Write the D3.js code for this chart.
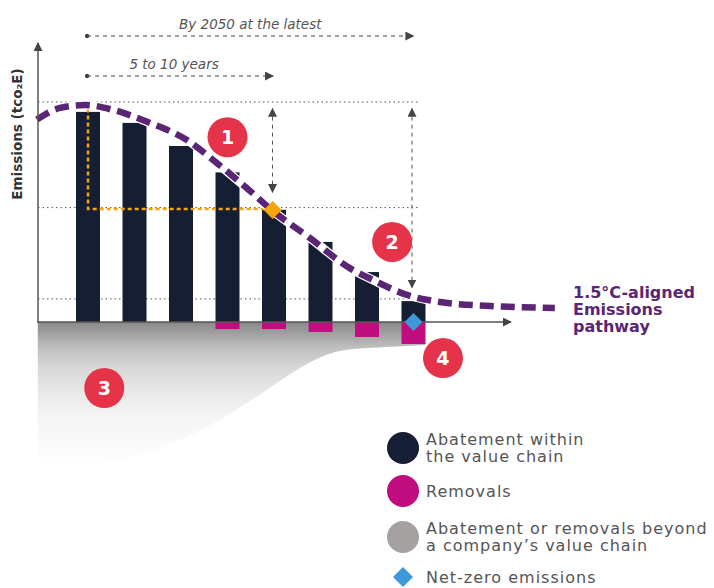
<!DOCTYPE html>
<html>
<head>
<meta charset="utf-8">
<script src="https://cdn.jsdelivr.net/npm/d3@7"></script>
<style>
  body { margin: 0; background: #fff; }
  svg { display: block; font-family: "DejaVu Sans", sans-serif; }
</style>
</head>
<body>
<svg width="714" height="588"></svg>
<script>
// periods (bars) and values, emissions in % of base year
const periods = [0, 1, 2, 3, 4, 5, 6, 7]
const abatement = [95.5, 90.5, 80, 68, 51, 36.4, 22.7, 9.5]
const removals = [0, 0, 0, -3.2, -3.2, -4.5, -6.8, -10]
const gridValues = [100, 52, 10.5]
// 1.5C pathway [period, value]
const pathway = [[-1.1, 92], [-0.6, 97.3], [-0.06, 98.6], [0.54, 96.4], [1.33, 90.5], [2.13, 82.7],
  [2.77, 72.3], [3.38, 61.5], [3.98, 50.4], [4.77, 38.2], [5.63, 24.5], [6.13, 19.1],
  [6.86, 12.3], [7.57, 9.1], [8.65, 7.3], [10.04, 6.4]]
// lower edge of the "beyond value chain" area [period, value]
const beyond = [[-1.08, -66], [-0.45, -66.4], [0.62, -64], [1.7, -56.8], [2.77, -45.9], [3.85, -30.9],
  [4.56, -20.5], [5.27, -12.7], [6.06, -11.8], [7.25, -10.5]]
const legendItems = [
  {lines: ["Abatement within", "the value chain"], color: "#161e35", shape: "circle"},
  {lines: ["Removals"], color: "#c00d80", shape: "circle"},
  {lines: ["Abatement or removals beyond", "a company’s value chain"], color: "#a5a1a1", shape: "circle"},
  {lines: ["Net-zero emissions"], color: "#3d9ad6", shape: "diamond"}
]

const svg = d3.select("svg")
const x = d3.scaleLinear().domain([0, 7]).range([88, 413.5])
const y = d3.scaleLinear().domain([0, 100]).range([322, 102])
const x0 = 38, barW = 24

const defs = svg.append("defs")
const grad = defs.append("linearGradient").attr("id", "gray").attr("x1", 0).attr("x2", 0).attr("y1", 0).attr("y2", 1)
const gStops = [[0, "#888888"], [0.18, "#c0c0c0"], [0.32, "#d8d8d8"], [0.45, "#e6e6e6"], [0.66, "#f5f5f5"], [1, "#ffffff"]]
grad.selectAll("stop").data(gStops).join("stop")
  .attr("offset", d => d[0]).attr("stop-color", d => d[1])
const mk = defs.append("marker").attr("id", "arr").attr("viewBox", "0 0 10 10")
  .attr("refX", 9).attr("refY", 5).attr("markerWidth", 9).attr("markerHeight", 9)
  .attr("markerUnits", "userSpaceOnUse").attr("orient", "auto-start-reverse")
mk.append("path").attr("d", "M0,0L10,5L0,10Z").attr("fill", "#444")

// gray area below the baseline
const edge = d3.line().x(d => x(d[0])).y(d => y(d[1])).curve(d3.curveBasis)
svg.append("path")
  .attr("d", "M" + x(beyond[0][0]) + "," + y(0) + "L" + x(beyond[beyond.length - 1][0]) + "," + y(0) +
    edge(beyond.slice().reverse()).replace(/^M/, "L") + "Z")
  .attr("fill", "url(#gray)")

// gridlines
svg.selectAll(".grid").data(gridValues).join("line")
  .attr("x1", x0).attr("x2", 420)
  .attr("y1", d => y(d)).attr("y2", d => y(d))
  .attr("stroke", "#555").attr("stroke-width", 1).attr("stroke-dasharray", "1.5,3")

// bars
svg.selectAll(".bar").data(periods).join("rect")
  .attr("x", i => x(i) - barW / 2).attr("width", barW)
  .attr("y", i => y(abatement[i])).attr("height", i => y(0) - y(abatement[i]))
  .attr("fill", "#161e33")
svg.selectAll(".rem").data(periods.filter(i => removals[i] < 0)).join("rect")
  .attr("x", i => x(i) - barW / 2).attr("width", barW)
  .attr("y", y(0)).attr("height", i => y(removals[i]) - y(0))
  .attr("fill", "#c00d80")

// orange reference lines
const peakY = y(51.4)
svg.append("path")
  .attr("d", `M${x(0)},${y(97)}V${peakY}H${x(3.97)}`)
  .attr("fill", "none").attr("stroke", "#f5a50a").attr("stroke-width", 2.5).attr("stroke-dasharray", "4,3")

// pathway
const pLine = d3.line().x(d => x(d[0])).y(d => y(d[1])).curve(d3.curveMonotoneX)
svg.append("path").attr("d", pLine(pathway)).attr("fill", "none")
  .attr("stroke", "#fff").attr("stroke-width", 9)
svg.append("path").attr("d", pLine(pathway)).attr("fill", "none")
  .attr("stroke", "#5b2575").attr("stroke-width", 6.5).attr("stroke-dasharray", "14,7")

// diamonds
const diamond = (cx, cy, r) => `M${cx},${cy - r}L${cx + r},${cy}L${cx},${cy + r}L${cx - r},${cy}Z`
svg.append("path").attr("d", diamond(x(3.97), y(50.9), 9)).attr("fill", "#f5a50a")

// axes
svg.append("line").attr("x1", x0).attr("x2", x0).attr("y1", y(0) + 1).attr("y2", 43)
  .attr("stroke", "#555").attr("stroke-width", 1.5).attr("marker-end", "url(#arr)")
svg.append("line").attr("x1", x0).attr("x2", 511).attr("y1", y(0)).attr("y2", y(0))
  .attr("stroke", "#555").attr("stroke-width", 1.5).attr("marker-end", "url(#arr)")

svg.append("path").attr("d", diamond(x(7), y(0), 9)).attr("fill", "#3d9ad6")

// time arrows
const timeArrows = [
  {label: "By 2050 at the latest", to: 7, yy: 36, ty: 29, shift: 0},
  {label: "5 to 10 years", to: 3.98, yy: 76, ty: 69, shift: -6}
]
timeArrows.forEach(a => {
  svg.append("circle").attr("cx", x(-0.02)).attr("cy", a.yy).attr("r", 2.2).attr("fill", "#444")
  svg.append("line").attr("x1", x(-0.02)).attr("x2", x(a.to)).attr("y1", a.yy).attr("y2", a.yy)
    .attr("stroke", "#444").attr("stroke-width", 1).attr("stroke-dasharray", "4,4").attr("marker-end", "url(#arr)")
  svg.append("text").attr("x", (x(-0.02) + x(a.to)) / 2 + a.shift).attr("y", a.ty)
    .attr("text-anchor", "middle").attr("font-style", "italic").attr("font-size", 13.5)
    .attr("fill", "#555").text(a.label)
})
// vertical reduction arrows
const vArrows = [{at: 4, from: 97, to: 59}, {at: 7, from: 97, to: 15.6}]
vArrows.forEach(a => {
  svg.append("line").attr("x1", x(a.at) - 1.5).attr("x2", x(a.at) - 1.5).attr("y1", y(a.from)).attr("y2", y(a.to))
    .attr("stroke", "#555").attr("stroke-width", 1).attr("stroke-dasharray", "4,4")
    .attr("marker-start", "url(#arr)").attr("marker-end", "url(#arr)")
})

// numbered badges
const badges = [{n: 1, px: 3.0, v: 84}, {n: 2, px: 6.54, v: 36.4}, {n: 3, px: 0.35, v: -30}, {n: 4, px: 7.634, v: -16.4}]
badges.forEach(b => {
  svg.append("circle").attr("cx", x(b.px)).attr("cy", y(b.v)).attr("r", 20).attr("fill", "#e5344a")
  svg.append("text").attr("x", x(b.px)).attr("y", y(b.v)).attr("dy", "0.36em")
    .attr("text-anchor", "middle").attr("font-weight", "bold").attr("font-size", 19)
    .attr("fill", "#fff").text(b.n)
})

// y label
svg.append("text").attr("transform", "translate(22,134) rotate(-90)")
  .attr("text-anchor", "middle").attr("font-weight", "bold").attr("font-size", 13.5)
  .attr("fill", "#333").text("Emissions (tco₂E)")

// pathway label
svg.append("text").attr("x", 573).attr("y", 292).attr("font-weight", "bold").attr("font-size", 16)
  .attr("fill", "#5b2575")
  .selectAll("tspan").data(["1.5°C-aligned", "Emissions", "pathway"]).join("tspan")
  .attr("x", 573).attr("dy", (d, i) => i ? 17 : "0.35em").text(d => d)

// legend
const legY = [448, 491, 537, 577]
const leg = svg.selectAll(".leg").data(legendItems).join("g")
  .attr("transform", (d, i) => `translate(403,${legY[i]})`)
leg.filter(d => d.shape === "circle").append("circle").attr("r", 16).attr("fill", d => d.color)
leg.filter(d => d.shape === "diamond").append("path").attr("d", diamond(0, 0, 10)).attr("fill", d => d.color)
leg.append("text").attr("x", 23).attr("font-size", 16).attr("letter-spacing", 1).attr("fill", "#555")
  .attr("y", d => d.lines.length > 1 ? -8.5 : 0)
  .selectAll("tspan").data(d => d.lines).join("tspan")
  .attr("x", 23).attr("dy", (d, i) => i ? 16.5 : "0.35em").text(d => d)
</script>
</body>
</html>
